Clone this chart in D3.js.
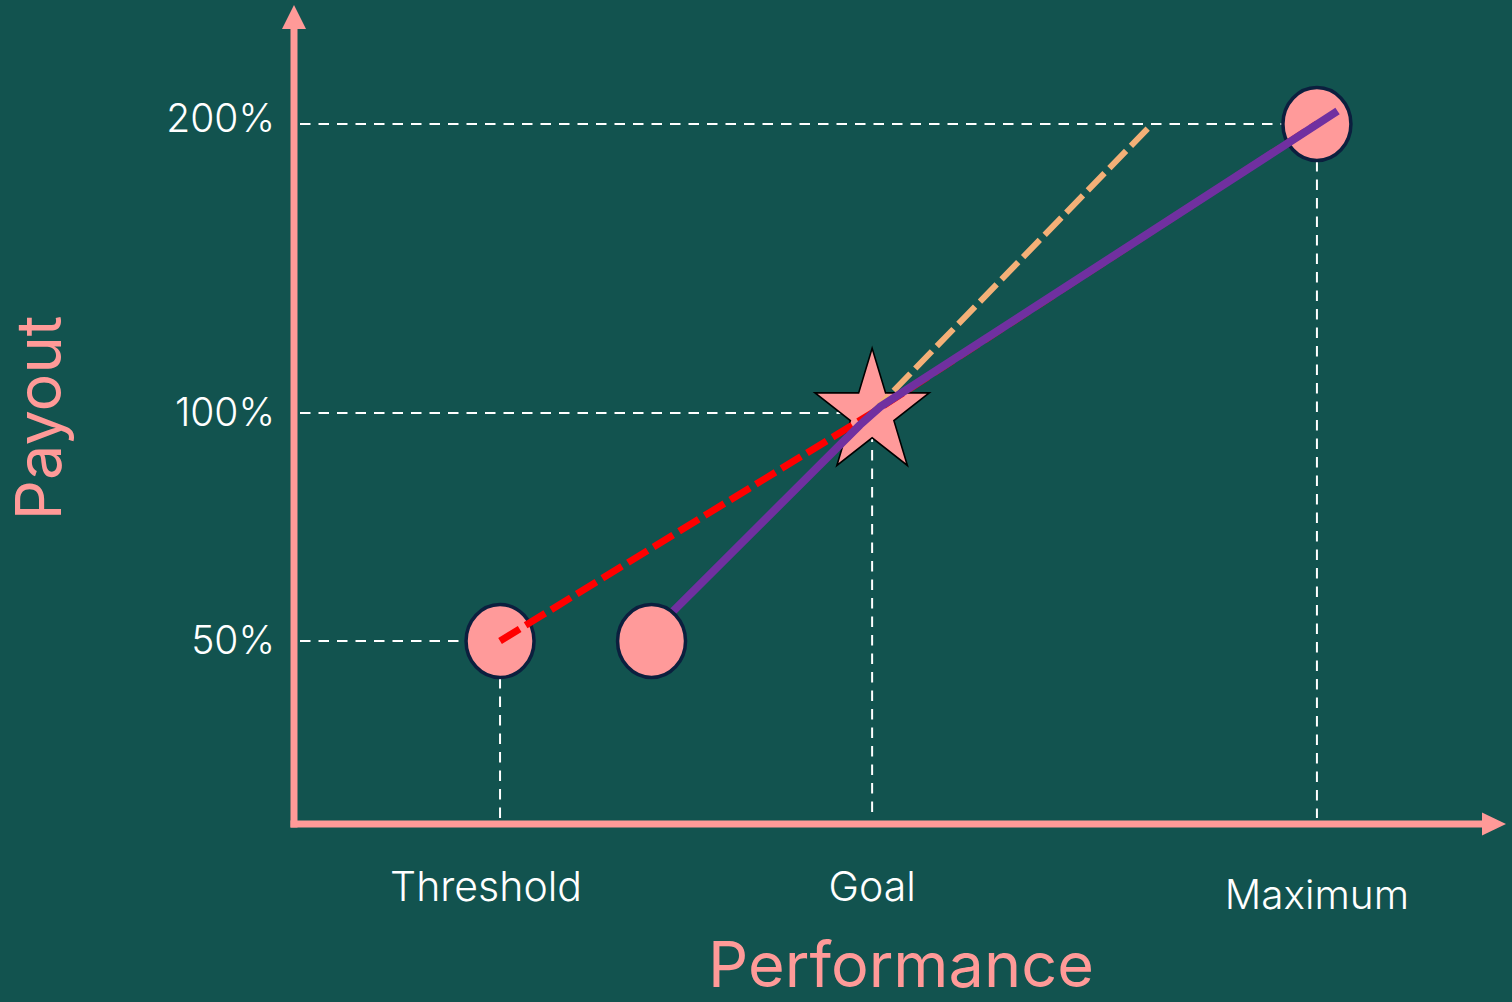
<!DOCTYPE html>
<html>
<head>
<meta charset="utf-8">
<script src="https://cdn.jsdelivr.net/npm/d3@7"></script>
<style>
  html, body { margin: 0; padding: 0; background: #12534F; }
  svg { display: block; }
  text { font-family: Inter, "Noto Sans", sans-serif; }
</style>
</head>
<body>
<script>
// Payout curve: performance levels and their payout
const levelNames = ["Threshold", "Goal", "Maximum"];
const levelPerformance = [17, 47.7, 84.4];
const levelPayout = [50, 100, 200];
const payoutTicks = [50, 100, 200];

// alternative, higher threshold
const altThresholdPerformance = 29.5;
const altThresholdPayout = 50;

// linear interpolation between threshold, goal and maximum (red dashed)
const linearPerformance = [17, 47.7, 84.4];
const linearPayout = [50, 100, 200];

// accelerated slope above goal (orange dashed)
const steepPerformance = [47.7, 70.8];
const steepPayout = [100, 200];

// payout curve from the higher threshold (purple)
const curvePerformance = [29.5, 46.7, 48.35, 86.1];
const curvePayout = [51.8, 97.4, 102.1, 204.5];

const W = 1512, H = 1002;
const C = {
  bg: "#12534F",
  axis: "#FF9A98",
  mark: "#FF9A9A",
  markStroke: "#0B1F3E",
  guide: "#FFFFFF",
  red: "#FF0000",
  orange: "#F4B077",
  purple: "#7030A0",
  text: "#FFFFFF"
};

const svg = d3.select("body").append("svg")
  .attr("width", W).attr("height", H);
svg.append("rect").attr("width", W).attr("height", H).attr("fill", C.bg);

const originX = 294, originY = 824;
const x = d3.scaleLinear().domain([0, 100]).range([originX, 1506]);
const y = d3.scaleLinear().domain([0, 50, 100, 200]).range([originY, 641, 413, 124]);

// ---- guide lines from the axes to each level ----
const guides = svg.append("g")
  .attr("stroke", C.guide).attr("stroke-width", 2)
  .attr("stroke-dasharray", "10.5,8").attr("fill", "none");
levelNames.forEach((name, i) => {
  guides.append("line")
    .attr("x1", originX + 6).attr("x2", x(levelPerformance[i]))
    .attr("y1", y(levelPayout[i])).attr("y2", y(levelPayout[i]));
  guides.append("line")
    .attr("x1", x(levelPerformance[i])).attr("x2", x(levelPerformance[i]))
    .attr("y1", y(levelPayout[i])).attr("y2", originY - 6);
});

// ---- axes with arrow heads ----
const axisG = svg.append("g");
axisG.append("line")
  .attr("x1", originX).attr("x2", originX)
  .attr("y1", originY + 3.5).attr("y2", 26)
  .attr("stroke", C.axis).attr("stroke-width", 7);
axisG.append("path")
  .attr("d", d3.line()([[originX, 5], [originX - 12, 29], [originX + 12, 29]]) + "Z")
  .attr("fill", C.axis);
axisG.append("line")
  .attr("x1", originX - 3.5).attr("x2", 1484)
  .attr("y1", originY).attr("y2", originY)
  .attr("stroke", C.axis).attr("stroke-width", 7);
axisG.append("path")
  .attr("d", d3.line()([[1506, originY], [1482, originY - 11.5], [1482, originY + 11.5]]) + "Z")
  .attr("fill", C.axis);

// payout tick labels
const yAxis = d3.axisLeft(y)
  .tickValues(payoutTicks)
  .tickFormat(d => d + "%")
  .tickSize(0)
  .tickPadding(19);
const yAxisG = svg.append("g").attr("transform", `translate(${originX},0)`).call(yAxis);
yAxisG.select(".domain").remove();
yAxisG.selectAll("text")
  .attr("fill", C.text)
  .attr("dy", (d) => d === 200 ? "0.2em" : "0.32em")
  .style("font-family", "Inter, sans-serif")
  .style("font-weight", 300)
  .style("font-size", "39px");

// performance level labels
svg.append("g").selectAll("text")
  .data(levelNames)
  .join("text")
  .attr("x", (d, i) => x(levelPerformance[i]) - (i === 0 ? 14 : 0))
  .attr("y", (d, i) => i === 2 ? 909 : 901)
  .attr("text-anchor", "middle")
  .attr("fill", C.text)
  .style("font-weight", 300)
  .style("font-size", (d, i) => i === 2 ? "40.5px" : "41px")
  .text(d => d);

// axis titles
svg.append("text")
  .attr("x", 901).attr("y", 987)
  .attr("text-anchor", "middle")
  .attr("fill", C.axis)
  .style("font-weight", 400)
  .style("font-size", "63px")
  .text("Performance");
svg.append("text")
  .attr("transform", "translate(61,418) rotate(-90)")
  .attr("text-anchor", "middle")
  .attr("fill", C.axis)
  .style("font-weight", 400)
  .style("font-size", "63px")
  .text("Payout");

// ---- goal star ----
const star = d3.symbol().type(d3.symbolStar).size(4040);
svg.append("path")
  .attr("d", star())
  .attr("transform", `translate(${x(levelPerformance[1])},${y(levelPayout[1])}) scale(1,1.08)`)
  .attr("fill", C.mark)
  .attr("stroke", "#000")
  .attr("stroke-width", 1.6);

// ---- threshold and maximum markers ----
const markers = svg.append("g");
[0, 2].forEach(i => {
  markers.append("ellipse")
    .attr("cx", x(levelPerformance[i])).attr("cy", y(levelPayout[i]))
    .attr("rx", 34).attr("ry", 36.5)
    .attr("fill", C.mark)
    .attr("stroke", C.markStroke).attr("stroke-width", 3.5);
});

// ---- payout lines ----
const pts = (xs, ys) => xs.map((v, i) => [x(v), y(ys[i])]);

svg.append("path")
  .attr("d", d3.line()(pts(steepPerformance, steepPayout)))
  .attr("fill", "none").attr("stroke", C.orange)
  .attr("stroke-width", 6).attr("stroke-dasharray", "24,7");

svg.append("path")
  .attr("d", d3.line()(pts(linearPerformance, linearPayout)))
  .attr("fill", "none").attr("stroke", C.red)
  .attr("stroke-width", 7).attr("stroke-dasharray", "23,7");

svg.append("path")
  .attr("d", d3.line()(pts(curvePerformance, curvePayout)))
  .attr("fill", "none").attr("stroke", C.purple)
  .attr("stroke-width", 8).attr("stroke-linejoin", "round");

// higher threshold marker sits on top of the curve start
svg.append("ellipse")
  .attr("cx", x(altThresholdPerformance)).attr("cy", y(altThresholdPayout))
  .attr("rx", 34).attr("ry", 36.5)
  .attr("fill", C.mark)
  .attr("stroke", C.markStroke).attr("stroke-width", 3.5);
</script>
</body>
</html>
